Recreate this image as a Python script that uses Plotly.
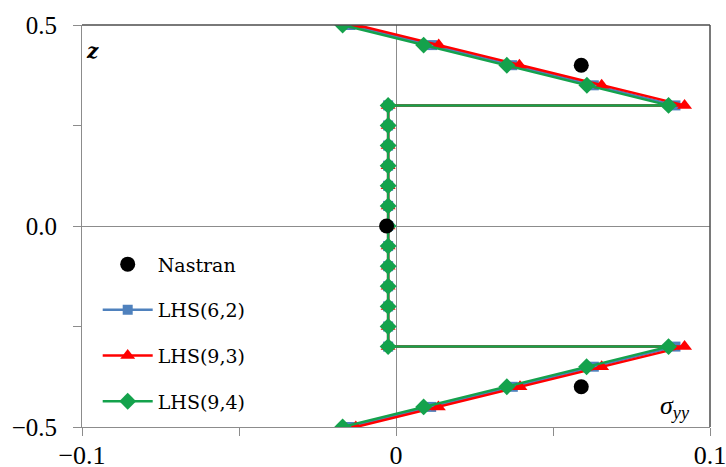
import plotly.graph_objects as go

# Through-thickness coordinate (top skin, core, bottom skin)
z = [0.5, 0.45, 0.4, 0.35, 0.3,
     0.3, 0.25, 0.2, 0.15, 0.1, 0.05, 0.0, -0.05, -0.1, -0.15, -0.2, -0.25, -0.3,
     -0.3, -0.35, -0.4, -0.45, -0.5]

# sigma_yy along z for each LHS model
lhs62 = [-0.0145, 0.0115, 0.0370, 0.0630, 0.0890,
         -0.0025, -0.0025, -0.0025, -0.0025, -0.0025, -0.0025, -0.0025,
         -0.0025, -0.0025, -0.0025, -0.0025, -0.0025, -0.0025,
         0.0890, 0.0630, 0.0372, 0.0112, -0.0148]
lhs93 = [-0.0125, 0.0136, 0.0393, 0.0655, 0.0919,
         -0.0025, -0.0025, -0.0025, -0.0025, -0.0025, -0.0025, -0.0025,
         -0.0025, -0.0025, -0.0025, -0.0025, -0.0025, -0.0025,
         0.0919, 0.0655, 0.0395, 0.0135, -0.0128]
lhs94 = [-0.0170, 0.0088, 0.0353, 0.0608, 0.0868,
         -0.0025, -0.0025, -0.0025, -0.0025, -0.0025, -0.0025, -0.0025,
         -0.0025, -0.0025, -0.0025, -0.0025, -0.0025, -0.0025,
         0.0868, 0.0607, 0.0353, 0.0088, -0.0170]

# Reference FE solution
nastran_s = [0.059, -0.003, 0.059]
nastran_z = [0.4, 0.0, -0.4]

x_tickvals = [-0.1, -0.05, 0.0, 0.05, 0.1]
x_ticktext = ["\u22120.1", "", "0", "", "0.1"]
y_tickvals = [-0.5, -0.25, 0.0, 0.25, 0.5]
y_ticktext = ["\u22120.5", "", "0.0", "", "0.5"]

BLUE = "#4f81bd"
RED = "#ff0000"
GREEN = "#14a24c"

fig = go.Figure()
fig.add_trace(go.Scatter(
    x=lhs62, y=z, mode="lines+markers", name="LHS(6,2)",
    legendgroup="b", legendrank=2,
    line=dict(color=BLUE, width=2.5),
    marker=dict(symbol="square", size=10, color=BLUE)))
fig.add_trace(go.Scatter(
    x=lhs93, y=z, mode="lines+markers", name="LHS(9,3)",
    legendgroup="c", legendrank=3,
    line=dict(color=RED, width=2.5),
    marker=dict(symbol="triangle-up", size=13, color=RED)))
fig.add_trace(go.Scatter(
    x=lhs94, y=z, mode="lines+markers", name="LHS(9,4)",
    legendgroup="d", legendrank=4,
    line=dict(color=GREEN, width=2.5),
    marker=dict(symbol="diamond", size=13, color=GREEN)))
fig.add_trace(go.Scatter(
    x=nastran_s, y=nastran_z, mode="markers", name="Nastran",
    legendgroup="a", legendrank=1,
    marker=dict(symbol="circle", size=15, color="black")))

y_tick_font = dict(family="Liberation Serif", size=25, color="black")
x_tick_font = dict(family="Liberation Serif", size=26, color="black")

fig.update_layout(
    width=726, height=467,
    margin=dict(l=82, r=16, t=25, b=40),
    paper_bgcolor="white", plot_bgcolor="white",
    showlegend=True,
    legend=dict(
        x=0.025, y=0.452, xanchor="left", yanchor="top",
        bgcolor="rgba(0,0,0,0)",
        font=dict(family="DejaVu Serif", size=19, color="black"),
        itemwidth=50, tracegroupgap=18, traceorder="grouped",
    ),
    xaxis=dict(
        range=[-0.1, 0.1], tickvals=x_tickvals, ticktext=x_ticktext,
        showgrid=False, zeroline=True, zerolinecolor="#8c8c8c", zerolinewidth=1,
        showline=True, linecolor="#8c8c8c", linewidth=1,
        ticks="outside", ticklen=8, tickcolor="#8c8c8c",
        tickfont=x_tick_font, ticklabelstandoff=-3, automargin=False,
        ticklabeloverflow="allow",
    ),
    yaxis=dict(
        range=[-0.5, 0.5], tickvals=y_tickvals, ticktext=y_ticktext,
        showgrid=False, zeroline=True, zerolinecolor="#8c8c8c", zerolinewidth=1,
        showline=True, linecolor="#8c8c8c", linewidth=1,
        ticks="outside", ticklen=8, tickcolor="#8c8c8c",
        tickfont=y_tick_font, ticklabelstandoff=11, automargin=False,
        ticklabeloverflow="allow",
    ),
    shapes=[
        dict(type="line", xref="paper", yref="paper", x0=0, x1=1, y0=1, y1=1,
             line=dict(color="#4d4d4d", width=1.5)),
        dict(type="line", xref="paper", yref="paper", x0=1, x1=1, y0=0, y1=1,
             line=dict(color="#4d4d4d", width=1.5)),
    ],
    annotations=[
        dict(text="<b><i>z</i></b>", xref="paper", yref="paper", x=0.016, y=0.935,
             xanchor="center", yanchor="middle", showarrow=False,
             font=dict(family="DejaVu Serif", size=20, color="black")),
        dict(text="<i>\u03c3<sub>yy</sub></i>", xref="paper", yref="paper", x=0.945, y=0.05,
             xanchor="center", yanchor="middle", showarrow=False,
             font=dict(family="Liberation Serif", size=26, color="black")),
    ],
)

fig.write_html("out.html")
